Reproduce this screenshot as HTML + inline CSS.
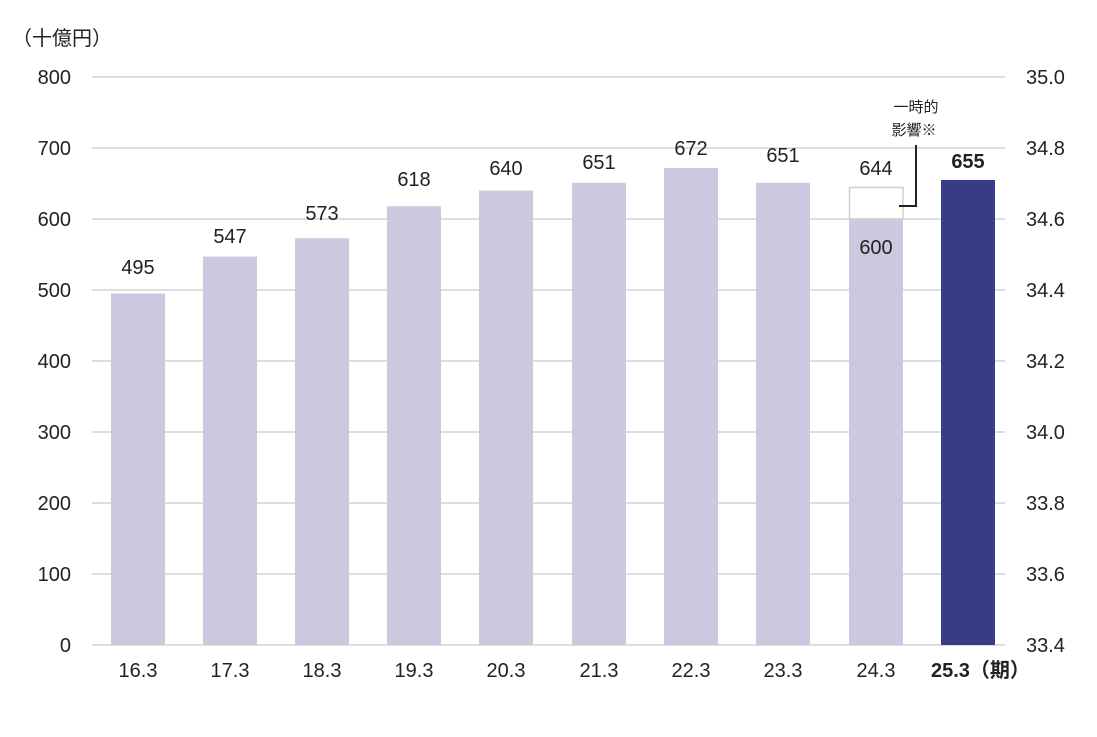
<!DOCTYPE html>
<html><head><meta charset="utf-8"><style>
body{margin:0;background:#fff}
text{font-family:"Liberation Sans","Noto Sans CJK JP",sans-serif;fill:#222}
</style></head><body>
<svg width="1097" height="732" viewBox="0 0 1097 732" xmlns="http://www.w3.org/2000/svg">
<g stroke="#d4d4d4" stroke-width="1.5">
<line x1="92" y1="77" x2="1005" y2="77"/><line x1="92" y1="148" x2="1005" y2="148"/>
<line x1="92" y1="219" x2="1005" y2="219"/><line x1="92" y1="290" x2="1005" y2="290"/>
<line x1="92" y1="361" x2="1005" y2="361"/><line x1="92" y1="432" x2="1005" y2="432"/>
<line x1="92" y1="503" x2="1005" y2="503"/><line x1="92" y1="574" x2="1005" y2="574"/>
<line x1="92" y1="645" x2="1005" y2="645"/>
</g>
<text x="12" y="45" font-size="20">（十億円）</text>
<g font-size="20" text-anchor="end">
<text x="71" y="84">800</text><text x="71" y="155">700</text><text x="71" y="226">600</text>
<text x="71" y="297">500</text><text x="71" y="368">400</text><text x="71" y="439">300</text>
<text x="71" y="510">200</text><text x="71" y="581">100</text><text x="71" y="652">0</text>
</g>
<g font-size="20">
<text x="1026" y="84">35.0</text><text x="1026" y="155">34.8</text><text x="1026" y="226">34.6</text>
<text x="1026" y="297">34.4</text><text x="1026" y="368">34.2</text><text x="1026" y="439">34.0</text>
<text x="1026" y="510">33.8</text><text x="1026" y="581">33.6</text><text x="1026" y="652">33.4</text>
</g>
<g fill="#cbc9e0">
<rect x="111" y="293.5" width="54" height="351.5"/>
<rect x="203" y="256.6" width="54" height="388.4"/>
<rect x="295" y="238.2" width="54" height="406.8"/>
<rect x="387" y="206.2" width="54" height="438.8"/>
<rect x="479" y="190.6" width="54" height="454.4"/>
<rect x="572" y="182.8" width="54" height="462.2"/>
<rect x="664" y="167.9" width="54" height="477.1"/>
<rect x="756" y="182.8" width="54" height="462.2"/>
<rect x="849" y="219" width="54" height="426"/>
</g>
<rect x="849.5" y="187.5" width="53.5" height="31.5" fill="none" stroke="#d0d0d0" stroke-width="1.5"/>
<rect x="941" y="180" width="54" height="465" fill="#383c84"/>
<polyline points="899,206 916,206 916,145" fill="none" stroke="#222" stroke-width="2"/>
<text x="916" y="112" font-size="15" text-anchor="middle">一時的</text>
<text x="914" y="135" font-size="15" text-anchor="middle">影響※</text>
<g font-size="20" text-anchor="middle">
<text x="138" y="274">495</text><text x="230" y="243">547</text><text x="322" y="220">573</text>
<text x="414" y="186">618</text><text x="506" y="175">640</text><text x="599" y="169">651</text>
<text x="691" y="155">672</text><text x="783" y="162">651</text><text x="876" y="175">644</text>
<text x="876" y="254">600</text>
<text x="968" y="168" font-weight="bold">655</text>
<text x="138" y="677">16.3</text><text x="230" y="677">17.3</text><text x="322" y="677">18.3</text>
<text x="414" y="677">19.3</text><text x="506" y="677">20.3</text><text x="599" y="677">21.3</text>
<text x="691" y="677">22.3</text><text x="783" y="677">23.3</text><text x="876" y="677">24.3</text>
</g>
<text x="931" y="677" font-size="20" font-weight="bold">25.3（期）</text>
</svg>
</body></html>
